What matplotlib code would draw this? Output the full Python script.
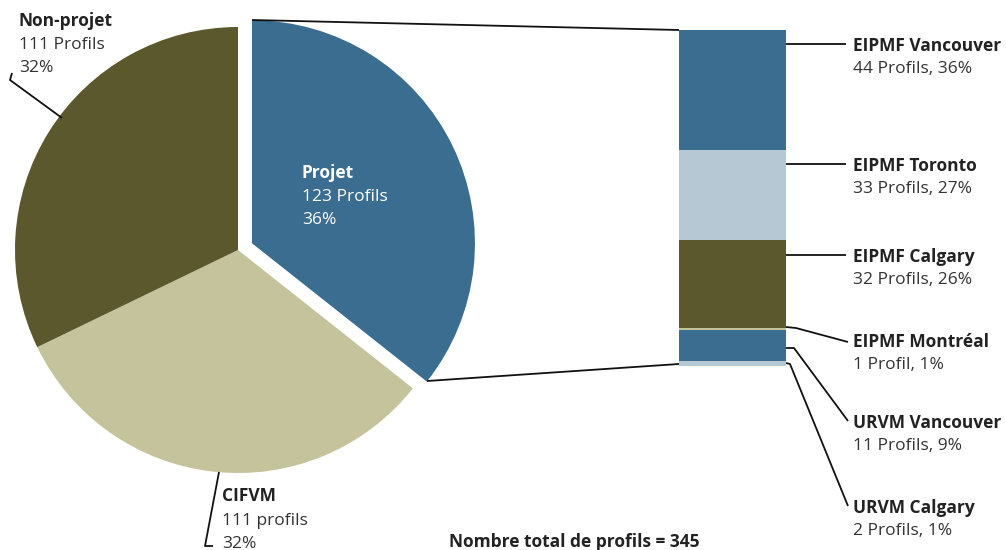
import matplotlib.pyplot as plt
import numpy as np

plt.rcParams['font.family'] = ['Open Sans', 'DejaVu Sans']

# pie data
pie_labels = ["Projet", "CIFVM", "Non-projet"]
pie_values = [123, 111, 111]
pie_sub = ["123 Profils", "111 profils", "111 Profils"]
pie_pct = ["36%", "32%", "32%"]

# breakdown of "Projet"
bar_labels = ["EIPMF Vancouver", "EIPMF Toronto", "EIPMF Calgary",
              "EIPMF Montréal", "URVM Vancouver", "URVM Calgary"]
bar_values = [44, 33, 32, 1, 11, 2]
bar_sub = ["44 Profils, 36%", "33 Profils, 27%", "32 Profils, 26%",
           "1 Profil, 1%", "11 Profils, 9%", "2 Profils, 1%"]
total_text = "Nombre total de profils = 345"

blue = "#3a6d8f"
light = "#b6c8d4"
olive = "#5a582c"
khaki = "#c5c39b"
txt = "#333333"
fs = 12.5

W, H = 1006, 550
fig = plt.figure(figsize=(W / 100, H / 100), dpi=100)
ax = fig.add_axes([0, 0, 1, 1])

# pixel coords, y downwards -> angles flip, so start at -90 and go counterclock
# (explode is an absolute offset here, in pixels)
cx, cy, R = 238, 250, 223
ax.pie(pie_values, colors=[blue, khaki, olive], startangle=-90, counterclock=True,
       center=(cx, cy), radius=R, explode=[15.5, 0, 0],
       wedgeprops=dict(linewidth=0))
ax.set_xlim(0, W)
ax.set_ylim(H, 0)
ax.set_aspect('equal')
ax.axis('off')

# stacked bar in its own axes (profile units)
bx0, bx1, by0, by1 = 679, 786, 30, 366
bax = fig.add_axes([bx0 / W, 1 - by1 / H, (bx1 - bx0) / W, (by1 - by0) / H])
bar_colors = [blue, light, olive, khaki, blue, light]
bottom = 0
for v, c in zip(bar_values, bar_colors):
    bax.bar(0, v, bottom=bottom, width=1, color=c, linewidth=0)
    bottom += v
bax.set_xlim(-0.5, 0.5)
bax.set_ylim(sum(bar_values), 0)
bax.axis('off')

lk = dict(color="#111111", lw=1.3, solid_capstyle='butt')

# connectors pie -> bar
ax.plot([252, 679], [20, 30], **lk)
ax.plot([427, 679], [381, 364], **lk)

# right-hand labels
leaders = [
    [(786, 44), (846, 44)],
    [(786, 164), (846, 164)],
    [(786, 255), (846, 255)],
    [(786, 327), (796, 328), (848, 342)],
    [(786, 348), (794, 348), (848, 421)],
    [(786, 363), (790, 364), (848, 506)],
]
bases = [51, 171, 262, 347, 428, 513]
for lab, sub, pts, b in zip(bar_labels, bar_sub, leaders, bases):
    xs, ys = zip(*pts)
    ax.plot(xs, ys, **lk)
    ax.text(853, b, lab, fontsize=fs, fontweight='bold', color="#222222", va='baseline')
    ax.text(853, b + 22, sub, fontsize=fs, color=txt, va='baseline')

# pie labels
ax.text(302, 178, pie_labels[0], fontsize=fs, fontweight='bold', color='white', va='baseline')
ax.text(302, 201, pie_sub[0], fontsize=fs, color='white', va='baseline')
ax.text(302, 224, pie_pct[0], fontsize=fs, color='white', va='baseline')

ax.plot([62, 10, 12], [118, 80, 73], **lk)
ax.text(19, 26, pie_labels[2], fontsize=fs, fontweight='bold', color="#222222", va='baseline')
ax.text(19, 49, pie_sub[2], fontsize=fs, color=txt, va='baseline')
ax.text(19, 72, pie_pct[2], fontsize=fs, color=txt, va='baseline')

ax.plot([219, 205, 213], [472, 546, 546], **lk)
ax.text(222, 501, pie_labels[1], fontsize=fs, fontweight='bold', color="#222222", va='baseline')
ax.text(222, 525, pie_sub[1], fontsize=fs, color=txt, va='baseline')
ax.text(222, 548, pie_pct[1], fontsize=fs, color=txt, va='baseline')

ax.text(574, 547, total_text, fontsize=fs, fontweight='bold', color="#222222",
        ha='center', va='baseline')

fig.savefig("out.png", dpi=100)
